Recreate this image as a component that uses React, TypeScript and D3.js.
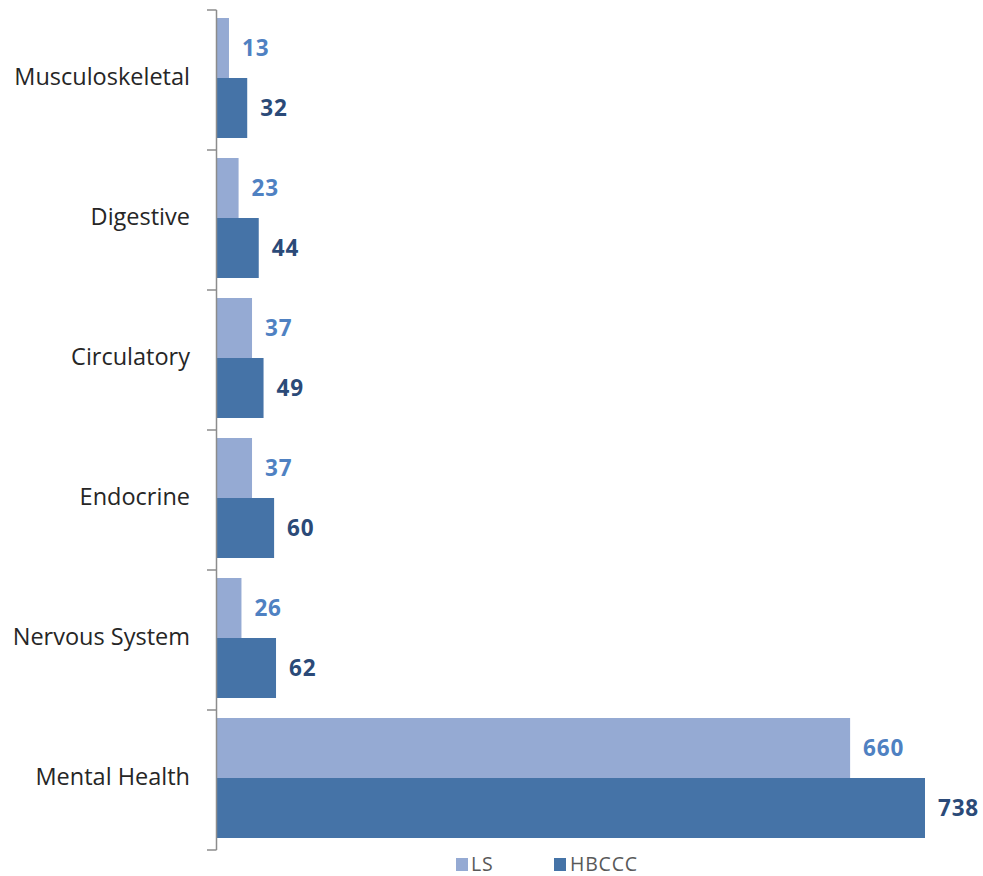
import React from "react";
import * as d3 from "d3";

const categories = ["Musculoskeletal", "Digestive", "Circulatory", "Endocrine", "Nervous System", "Mental Health"];
const seriesNames = ["LS", "HBCCC"];
const lsValues = [13, 23, 37, 37, 26, 660];
const hbcccValues = [32, 44, 49, 60, 62, 738];

const W = 983;
const H = 876;
const colors = ["#95aad3", "#4573a7"];
const labelColors = ["#4f81c2", "#2b4a78"];

export default function App() {
  const x0 = 216.5;
  const x = d3.scaleLinear().domain([0, 738]).range([x0, 925]);
  const y = d3.scaleBand().domain(categories).range([10, 850]).paddingInner(0).paddingOuter(0);
  const bw = y.bandwidth();
  const inner = d3.scaleBand().domain(seriesNames).range([8, bw - 12]);
  const series = [lsValues, hbcccValues];
  const font = "'Open Sans', 'Noto Sans', sans-serif";
  const ticks = [...categories.map((c) => y(c)!), 850];

  return (
    <svg width={W} height={H} style={{ position: "absolute", left: 0, top: 0 }}>
      <rect width={W} height={H} fill="#fff" />
      {categories.map((c, i) => (
        <g key={c}>
          {series.map((vals, s) => {
            const yy = y(c)! + inner(seriesNames[s])!;
            const h = inner.bandwidth();
            return (
              <g key={s}>
                <rect x={x(0)} y={yy} width={x(vals[i]) - x(0)} height={h} fill={colors[s]} />
                <text
                  x={x(vals[i]) + 13}
                  y={yy + h / 2}
                  dy="0.35em"
                  fill={labelColors[s]}
                  fontFamily={font}
                  fontWeight="bold"
                  fontSize={22.5}
                  letterSpacing={0.8}
                >
                  {vals[i]}
                </text>
              </g>
            );
          })}
          <text
            x={190}
            y={y(c)! + bw / 2 - 3}
            dy="0.35em"
            textAnchor="end"
            fill="#262626"
            fontFamily={font}
            fontSize={23.5}
          >
            {c}
          </text>
        </g>
      ))}
      <line x1={x0} x2={x0} y1={10} y2={850} stroke="#8c8c8c" strokeWidth={1.5} />
      {ticks.map((t, i) => (
        <line key={i} x1={207} x2={x0} y1={t} y2={t} stroke="#8c8c8c" strokeWidth={1.5} />
      ))}
      <g fontFamily={font} fontSize={19.5} fill="#595959" letterSpacing={0.8}>
        <rect x={456} y={858} width={12} height={13} fill={colors[0]} />
        <text x={471} y={871}>{seriesNames[0]}</text>
        <rect x={554} y={858} width={12} height={13} fill={colors[1]} />
        <text x={570} y={871}>{seriesNames[1]}</text>
      </g>
    </svg>
  );
}
